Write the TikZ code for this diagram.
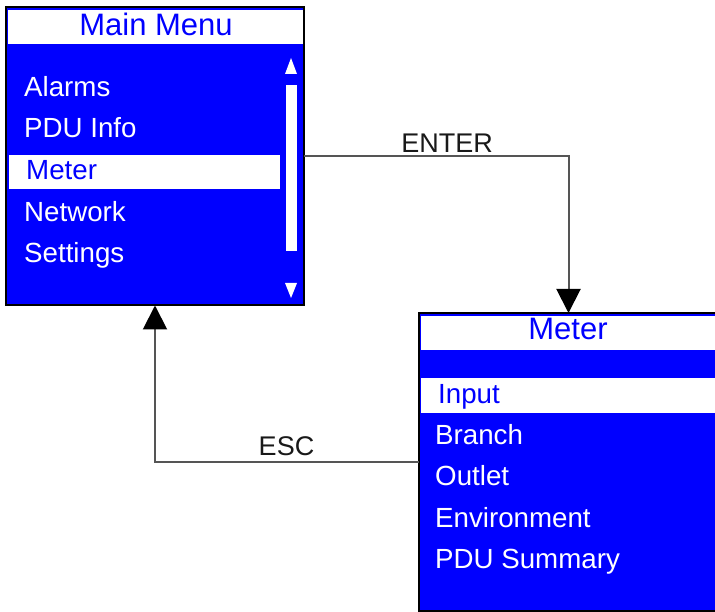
\documentclass[tikz,border=0pt]{standalone}
\usepackage{fontspec}
\setmainfont{Liberation Sans}
\usetikzlibrary{arrows.meta}
\definecolor{scrblue}{HTML}{0000FF}
\definecolor{linegray}{HTML}{555555}
\tikzset{
  screen/.style={draw=black, line width=2pt, fill=scrblue, rectangle, inner sep=0pt, outer sep=0pt},
  bar/.style={fill=white},
  item/.style={anchor=base west, inner sep=0pt, text=white, font=\fontsize{27.7}{27.7}\selectfont},
  selitem/.style={item, text=scrblue},
  ttl/.style={anchor=base, inner sep=0pt, text=scrblue, font=\fontsize{31}{31}\selectfont},
  lbl/.style={anchor=base, inner sep=0pt, text=black!90, font=\fontsize{27}{27}\selectfont},
  conn/.style={draw=linegray, line width=2pt, -{Triangle[width=24pt,length=24pt,color=black]}},
}
\begin{document}
\begin{tikzpicture}[x=1pt,y=-1pt]
\useasboundingbox (0,0) rectangle (715,612);
\clip (0,0) rectangle (715,612);
% Main menu screen
\node[screen, minimum width=298pt, minimum height=298pt] (main) at (155,156.5) {};
\fill[bar] (8,10) rectangle (303,44);
\fill[bar] (9,155) rectangle (280,189);
\fill[bar] (286,85) rectangle (297,251);
\fill[white] (285,74) -- (297,74) -- (291,58) -- cycle;
\fill[white] (285,283) -- (297,283) -- (291,298) -- cycle;
\node[ttl] (mtitle) at (156,36) {Main Menu};
\node[item] (m1) at (24,97) {Alarms};
\node[item] (m2) at (24,138) {PDU Info};
\node[selitem] (m3) at (26,179.5) {Meter};
\node[item] (m4) at (24,222) {Network};
\node[item] (m5) at (24,263) {Settings};
% Meter screen
\node[screen, minimum width=299pt, minimum height=298pt] (meter) at (568.5,462) {};
\fill[bar] (421,316) rectangle (717,350);
\fill[bar] (421,378) rectangle (717,413);
\node[ttl] (ttitle) at (568,340) {Meter};
\node[selitem] (t1) at (438,403) {Input};
\node[item] (t2) at (435,444) {Branch};
\node[item] (t3) at (435,485.5) {Outlet};
\node[item] (t4) at (435,527) {Environment};
\node[item] (t5) at (435,568) {PDU Summary};
% Connectors
\draw[conn] (main.east) -| (meter.north);
\draw[conn] (meter.west) -| (main.south);
\node[lbl] (enter) at (447,153) {ENTER};
\node[lbl] (esc) at (286.5,455) {ESC};
\end{tikzpicture}
\end{document}
